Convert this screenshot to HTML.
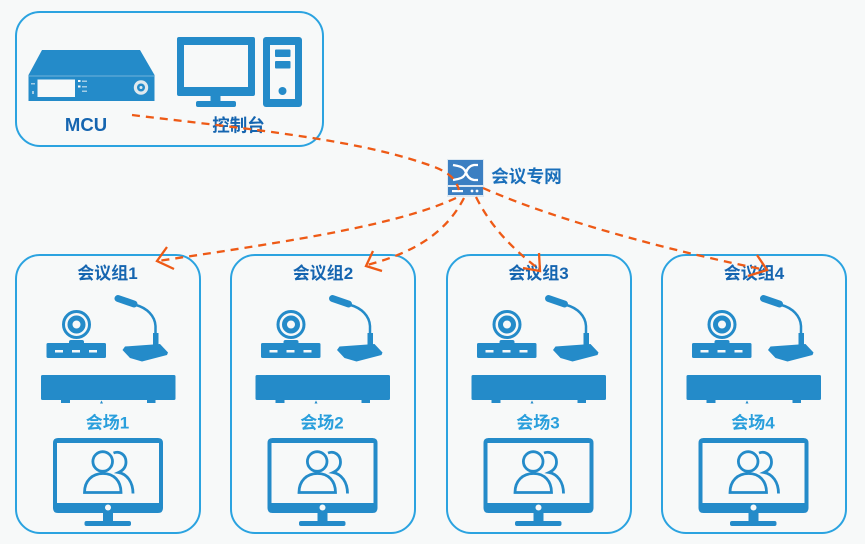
<!DOCTYPE html>
<html><head><meta charset="utf-8">
<style>
html,body{margin:0;padding:0;background:#f7f9f9;width:865px;height:544px;overflow:hidden}
svg{display:block}
text{font-family:"Liberation Sans","Noto Sans CJK SC",sans-serif;font-weight:bold;font-size:17px;text-anchor:middle}
.d{fill:#1565b0}.l{fill:#2a9fdc}
.b{fill:none;stroke:#2ba3e0;stroke-width:2}
.i{fill:#248bc9}
.o{fill:none;stroke:#248bc9}
.w{fill:#f7f9f9}
.a{fill:none;stroke:#ee5a16;stroke-width:2.300;stroke-dasharray:8 6}
.h{fill:none;stroke:#ee5a16;stroke-width:2.300}
</style></head><body>
<svg width="865" height="544" viewBox="0 0 865 544" xmlns="http://www.w3.org/2000/svg">
<defs>
<rect id="box" class="b" x="16" y="255" width="184" height="278" rx="24"/>
<g id="g">
<!-- camera -->
<circle class="o" cx="76.500" cy="324.500" r="13" stroke-width="3"/>
<circle class="o" cx="76.500" cy="324.500" r="6.500" stroke-width="5"/>
<rect class="i" x="69" y="340" width="15" height="6" rx="2"/>
<rect class="i" x="46.500" y="343" width="59.500" height="15" rx="1.500"/>
<rect class="w" x="55" y="350" width="8" height="2.500"/><rect class="w" x="72" y="350" width="8" height="2.500"/><rect class="w" x="89" y="350" width="8" height="2.500"/>
<!-- mic -->
<path d="M118 298.500L134 304" stroke="#248bc9" stroke-width="7" stroke-linecap="round" fill="none"/>
<path d="M136 305C147 308 155 316 155.500 326V338" class="o" stroke-width="2.500"/>
<rect class="i" x="153" y="333" width="5.500" height="13"/>
<path d="M122.500 350L125 346.500L160 344L168 352.500L167 355L142 361.500L130 358Z" class="i"/>
<!-- bar -->
<rect class="i" x="41" y="375" width="134.500" height="25" rx="1.500"/>
<rect class="i" x="61" y="400" width="9" height="3"/><rect class="i" x="147" y="400" width="8.500" height="3"/>
<path d="M100 403.500l1.500-3 1.500 3z" class="i"/>
<!-- monitor -->
<path class="i" fill-rule="evenodd" d="M58 438H158Q163 438 163 443V508Q163 513 158 513H58Q53 513 53 508V443Q53 438 58 438ZM57 443V503H159V443Z"/>
<circle class="w" cx="108" cy="507.500" r="3"/>
<rect class="i" x="103" y="513" width="10" height="9"/>
<rect class="i" x="84.500" y="521" width="46.500" height="5" rx="2"/>
<!-- people -->
<circle class="o" cx="102.700" cy="461.500" r="9.800" stroke-width="2.800"/>
<path class="o" stroke-width="2.800" d="M84.500 492.500C84.500 481 92 473.500 103 473.500S121 481 121 492.500Z"/>
<path class="o" stroke-width="2.800" d="M113.500 453C120 450.500 126 455 126 462C126 466 124 470 118.500 472.500C127 474 133 482 133 493.500"/>
</g>
</defs>
<rect width="865" height="544" fill="#f7f9f9"/>
<rect class="b" x="16" y="12" width="307" height="134" rx="24"/>
<!-- MCU -->
<path class="i" d="M42 50H140L154.500 75V101H28.500V75Z"/>
<path d="M29 76H154" stroke="#6fb3dc" stroke-width="1"/>
<rect class="w" x="37.500" y="79.500" width="37.500" height="17.500"/>
<rect class="w" x="31" y="83" width="4" height="1.500" opacity=".6"/><rect class="w" x="32" y="91" width="2" height="3" opacity=".6"/>
<rect class="w" x="78" y="80" width="2.500" height="2"/><rect class="w" x="78" y="85.500" width="2.500" height="2"/>
<rect class="w" x="82" y="80.500" width="5" height="1.500" opacity=".6"/><rect class="w" x="82" y="86" width="5" height="1.500" opacity=".6"/><rect class="w" x="82" y="90.500" width="5" height="1.500" opacity=".6"/>
<circle cx="141" cy="87.500" r="7.200" fill="#dfe9ee"/><circle cx="141" cy="87.500" r="4" fill="#248bc9"/><circle cx="141" cy="87.500" r="1.500" fill="#dfe9ee"/>
<text class="d" x="86" y="131" style="font-size:18.500px">MCU</text>
<!-- PC -->
<path class="i" fill-rule="evenodd" d="M179 37H253Q255 37 255 39V94Q255 96 253 96H179Q177 96 177 94V39Q177 37 179 37ZM184 45V87H248V45Z"/>
<rect class="i" x="210.500" y="96" width="10" height="6"/>
<rect class="i" x="196" y="101" width="40" height="6" rx="2"/>
<rect class="i" x="263" y="37" width="39" height="70" rx="3"/>
<rect class="w" x="270" y="45" width="25" height="54"/>
<rect class="i" x="275" y="49.500" width="15.500" height="7.500" rx="1"/>
<rect class="i" x="275" y="61" width="15.500" height="7.500" rx="1"/>
<circle class="i" cx="282.500" cy="91" r="4"/>
<text class="d" x="238.500" y="131.500" style="font-size:17.500px">控制台</text>
<!-- switch -->
<rect x="447" y="159" width="37" height="38" fill="#dce8f2"/>
<rect x="448" y="160" width="35" height="25" fill="#3b7fc2"/>
<rect x="448" y="187" width="35" height="8" fill="#3b7fc2"/>
<path d="M453 165L458 166Q464 167 466 172.500Q468 179 474 180H478M453 180L458 179Q464 178 466 172.500Q468 166 474 165H478" fill="none" stroke="#fff" stroke-width="2.300"/>
<rect x="452" y="190" width="11" height="2.200" fill="#fff"/><circle cx="472" cy="191" r="1.400" fill="#fff"/><circle cx="477" cy="191" r="1.400" fill="#fff"/>
<text x="526.500" y="182.500" style="fill:#1a6fba;font-size:17.700px">会议专网</text>
<use href="#box"/><use href="#box" x="215"/><use href="#box" x="431"/><use href="#box" x="646"/>
<use href="#g"/>
<use href="#g" x="214.500"/>
<use href="#g" x="430.500"/>
<use href="#g" x="645.500"/>
<g class="d">
<text x="107.500" y="279">会议组1</text>
<text x="323" y="279">会议组2</text>
<text x="538.500" y="279">会议组3</text>
<text x="754" y="279">会议组4</text>
</g>
<g class="l">
<text x="107.500" y="428.500">会场1</text>
<text x="322" y="428.500">会场2</text>
<text x="538" y="428.500">会场3</text>
<text x="753" y="428.500">会场4</text>
</g>
<!-- connectors -->
<path class="a" d="M132 115C230 127 350 138 423 163C445 170 455 176 459 190"/>
<path class="a" d="M456 198C400 224 300 240 158 261"/>
<path class="a" d="M464 198C450 225 425 250 367 265"/>
<path class="a" d="M476 197C490 225 510 247 540 270"/>
<path class="a" d="M483 188C560 222 680 253 766 270"/>
<path class="h" d="M167 247L157 261L174 269"/>
<path class="h" d="M373 251L366 266L382 271"/>
<path class="h" d="M523 268L540 271L539 253"/>
<path class="h" d="M757 255L767 270L748 276"/>
</svg>
</body></html>
